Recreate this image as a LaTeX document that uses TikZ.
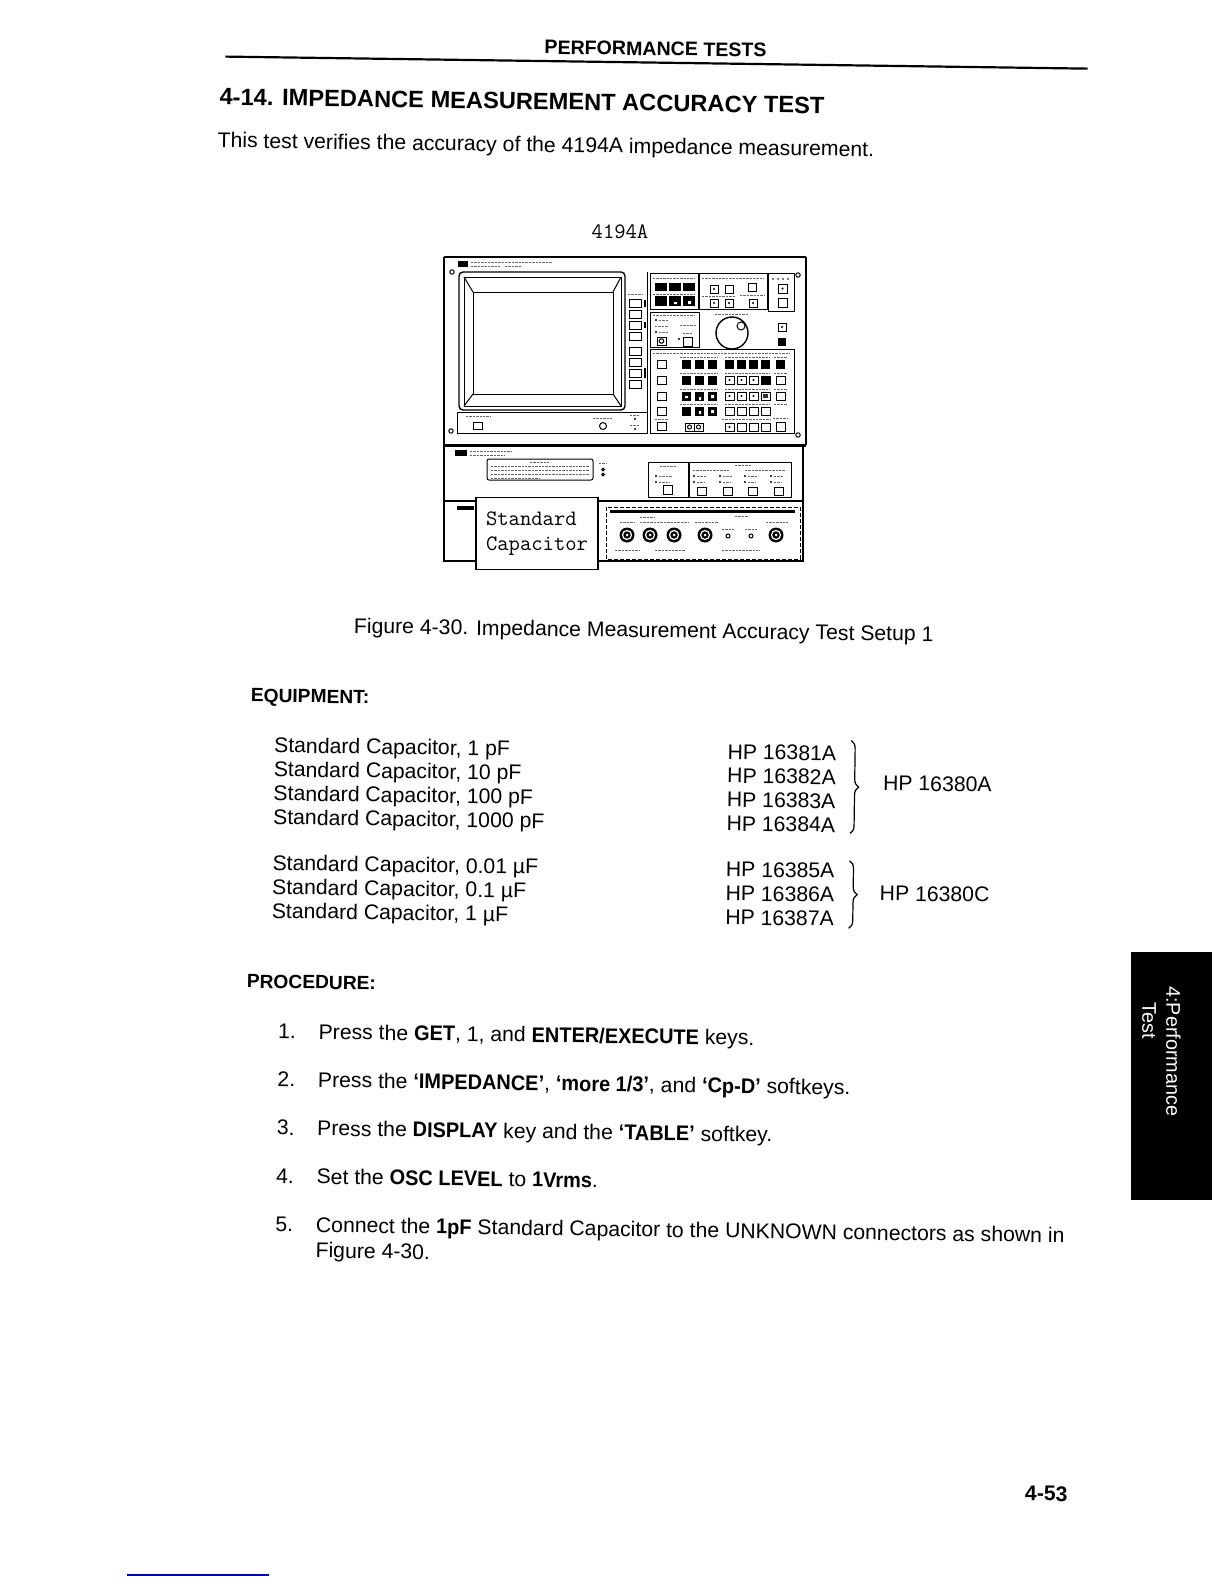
\documentclass[tikz,border=0pt]{standalone}
\usepackage{fontspec}
\setmainfont{Liberation Sans}
\newfontfamily\condbf[FakeStretch=0.94]{Liberation Sans Bold}
\newcommand\kb[1]{{\condbf #1}}
\usetikzlibrary{positioning, decorations.pathreplacing}

\begin{document}
\begin{tikzpicture}[x=0.5pt, y=-0.5pt,
    body/.style={font=\fontsize{10.5}{12.5}\selectfont, inner sep=0pt},
    hd/.style={font=\bfseries\fontsize{9.5}{11}\selectfont, inner sep=0pt},
    ttl/.style={font=\bfseries\fontsize{11.7}{14}\selectfont, inner sep=0pt},
    mono/.style={font=\ttfamily\fontsize{11}{12.5}\selectfont, inner sep=0pt, align=left},
    frame/.style={draw, line width=0.8pt},
    box/.style={draw, line width=0.5pt},
    scrib/.style={draw=black!60, line width=0.45pt, dash pattern=on 1.2pt off 0.5pt},
    brc/.style={decorate, decoration={brace, amplitude=4pt}, line width=0.6pt},
    tabtxt/.style={font=\fontsize{9.9}{12}\selectfont, text=white, align=left, inner sep=0pt}]
\useasboundingbox (0,0) rectangle (1224,1584);

% ---- 4194A front panel
\node[mono, anchor=base] (model) at (620,238) {4194A};
\draw[frame] (444,257) -- (444,445) (806,445) -- (806,257);
\draw[line width=1.1pt] (444,257) -- (806,257);
\fill (458,261) rectangle (468,267);
\draw[scrib] (471,262) -- (552,262) (471,266) -- (500,266) (505,266) -- (522,266);
\foreach \p in {(452,272),(451,431),(798,275),(798,435)}
    \draw[box] \p circle[radius=2.2];
% display
\draw[box, line width=0.7pt, rounded corners=2pt] (459,272) rectangle (625,410);
\draw[box] (464,277) rectangle (621,406);
\draw[box] (473,292) rectangle (613,394);
\draw[box] (464,277) -- (473,292) (621,277) -- (613,292) (464,406) -- (473,394) (621,406) -- (613,394);
\draw[box] (457,412) rectangle (647,433);
\draw[box] (473,422) rectangle (482,429);
\draw[scrib] (466,416) -- (490,416) (593,418) -- (613,418) (630,415) -- (640,415) (630,425) -- (640,425);
\draw[box] (603,426) circle[radius=3.5];
\fill (635,419) circle[radius=1.2] (635,429) circle[radius=1.2];
% softkeys
\draw[box] (647,272) -- (647,433);
\draw[scrib] (628,294) -- (643,294);
\foreach \y in {299,310,321,332,347,358,369,380}
    \draw[box] (629,\y) rectangle +(12,8);
\draw[line width=1pt] (644.5,300) -- (644.5,307) (644.5,322) -- (644.5,328) (644.5,368) -- (644.5,378);
% marker block
\draw[box] (650,273) rectangle (698,309);
\draw[scrib] (653,278) -- (695,278) (653,294) -- (695,294);
\foreach \x in {655,669,683} {
    \fill (\x,283) rectangle +(12,8);
    \fill (\x,296) rectangle +(12,10);
}
\fill[white] (674,302) rectangle +(3,2) (688,301) rectangle +(3,3);
% sweep block
\draw[box] (699,273) rectangle (767,309);
\draw[scrib] (702,278) -- (764,278) (702,296) -- (735,296) (740,295) -- (764,295);
\foreach \x/\y in {710/285,725/285,748/283,710/299,725/299,749/299}
    \draw[box] (\x,\y) rectangle +(8,8);
\fill (714,289) circle[radius=1.2] (714,303) circle[radius=1.2] (729,303) circle[radius=1.2] (753,303) circle[radius=1.2];
\draw[box] (768,273) rectangle (794,311);
\foreach \x in {773,778,783,788}
    \fill (\x,279) circle[radius=0.8];
\draw[box] (778,284) rectangle +(9,9) (778,298) rectangle +(9,9);
\fill (782.5,288.5) circle[radius=1.2];
% display control block
\draw[box] (650,312) rectangle (699,347);
\draw[scrib] (653,315) -- (695,315) (659,320) -- (668,320) (655,326) -- (668,326) (659,332) -- (668,332) (680,325) -- (696,325) (683,333) -- (692,333);
\fill (656,320) circle[radius=1.2] (656,332) circle[radius=1.2] (679,339) circle[radius=1.2];
\draw[box] (657,337) rectangle +(9,8) (683,337) rectangle +(9,9);
\draw[box] (661.5,341) circle[radius=2.3];
% knob
\draw[box, line width=0.7pt] (732,333) circle[radius=16];
\draw[box] (741,326) circle[radius=4];
\draw[scrib] (715,314) -- (748,314);
\draw[box] (778,323) rectangle +(8,8);
\fill (782,327) circle[radius=1.2];
\fill (778,338) rectangle +(8,8);
% entry keyboard
\draw[box] (650,349) rectangle (794,433);
\draw[scrib] (653,353) -- (790,353);
\foreach \y in {360,376,392,407} {
    \draw[box] (657,\y) rectangle +(9,8);
    \draw[scrib] (680,\y-3) -- (718,\y-3) (725,\y-3) -- (770,\y-3) (774,\y-3) -- (787,\y-3);
    \foreach \x in {682,695,708}
        \fill (\x,\y) rectangle +(9,9);
}
\draw[box] (657,422) rectangle +(9,8);
\fill[white] (685,396) rectangle +(3,2) (699,397) rectangle +(2,3) (711,395) rectangle +(3,3) (699,411) rectangle +(2,3) (711,410) rectangle +(3,3);
\foreach \x in {725,737,749,761} {
    \fill (\x,360) rectangle +(9,9);
    \draw[box] (\x,376) rectangle +(9,8) (\x,392) rectangle +(9,8) (\x,407) rectangle +(9,8) (\x,423) rectangle +(9,8);
}
\foreach \x in {729.5,741.5,753.5}
    \fill (\x,380) circle[radius=1.2] (\x,396) circle[radius=1.2];
\fill (761,376) rectangle +(9,8) (729.5,427) circle[radius=1.2];
\fill[black!80] (763,394) rectangle +(5,4);
\fill (776,360) rectangle +(9,9);
\draw[box] (776,376) rectangle +(9,8) (776,392) rectangle +(9,8) (776,422) rectangle +(9,9);
\draw[box] (685,423) rectangle +(9,8) (694,423) rectangle +(9,8);
\draw[box] (689.5,427) circle[radius=2] (698.5,427) circle[radius=2];
\draw[scrib] (655,419) -- (668,419) (722,419) -- (770,419) (773,418) -- (788,418);

% ---- lower unit
\draw[line width=1.6pt] (444,445.5) -- (806,445.5);
\draw[frame] (444,445) -- (444,561) -- (803,561) -- (803,445);
\fill (455,450) rectangle (467,456);
\draw[scrib] (470,451) -- (512,451) (470,455) -- (505,455);
\draw[box, rounded corners=1pt] (487,459) rectangle (593,480);
\draw[scrib] (530,462) -- (550,462) (491,466) -- (589,466) (491,470) -- (589,470) (491,474) -- (589,474) (491,478) -- (540,478) (599,463) -- (607,463);
\draw[box] (603,469.5) circle[radius=1.3] (603,474.5) circle[radius=1.3];
\draw[box] (648,462) rectangle (688,497);
\draw[scrib] (660,466) -- (677,466) (659,476) -- (672,476) (659,482) -- (670,482);
\fill (656,476) circle[radius=1.2] (656,482) circle[radius=1.2];
\draw[box] (663,485) rectangle +(9,9);
\draw[box] (689,462) rectangle (791,497);
\draw[scrib] (735,465) -- (752,465) (693,470) -- (730,470) (745,470) -- (785,470);
\foreach \x in {697,723,748,774} {
    \fill (\x-3,476) circle[radius=1.2] (\x-3,482) circle[radius=1.2];
    \draw[scrib] (\x,476) -- (\x+9,476) (\x,482) -- (\x+7,482);
    \draw[box] (\x,487) rectangle +(9,8);
}
\draw[line width=0.7pt] (444,501) -- (803,501);
\draw[line width=2pt] (457,507.5) -- (474,507.5);
% unknown connectors
\draw[line width=0.45pt, dash pattern=on 2pt off 1pt] (606,507) rectangle (800,559);
\draw[line width=1.5pt] (610,511) -- (795,511);
\foreach \x in {627,650,674,705,776} {
    \fill (\x,535) circle[radius=7.5];
    \draw[white, line width=0.6pt] (\x,535) circle[radius=4.5];
    \fill[white] (\x,535) circle[radius=1.5];
}
\draw[box] (728,536) circle[radius=2] (751,536) circle[radius=2];
\draw[scrib] (620,522) -- (634,522) (640,517) -- (655,517) (640,522) -- (688,522) (695,522) -- (718,522) (735,516) -- (748,516) (722,529) -- (734,529) (745,529) -- (757,529) (766,522) -- (788,522) (615,550) -- (640,550) (655,550) -- (685,550) (722,550) -- (760,550);
\node[mono, draw, fill=white, line width=0.9pt, minimum width=61pt, minimum height=36pt] (stdcap) at (537,533.5) {Standard\\Capacitor};

% ---- side tab
\fill (1131,952) rectangle (1212,1200);
\node[tabtxt, anchor=north west, rotate=-90] (tab) at (1181,986) {4:Performance\\\phantom{4:}Test};
\draw[blue!75!black, line width=1pt] (127,1575) -- (269,1575);

% ---- page text
\begin{scope}[scale=1.01, rotate around={-0.8:(612,792)}, transform shape]
\node[font=\bfseries\fontsize{9.7}{11}\selectfont, inner sep=0pt, anchor=base] (runhead) at (638.7,54.5) {PERFORMANCE TESTS};
\draw[line width=1.1pt] (212.8,61.5) -- (1066.8,61.5);
\node[ttl, anchor=base west] (title) at (207.4,109.5) {4-14. IMPEDANCE MEASUREMENT ACCURACY TEST};
\node[body, anchor=base west] (intro) at (206,151.6) {This test verifies the accuracy of the 4194A impedance measurement.};
\node[body, anchor=base west] (caption) at (347.7,630.7) {Figure 4-30. Impedance Measurement Accuracy Test Setup 1};

\node[hd, anchor=base west] (equip) at (246.6,700.1) {EQUIPMENT:};
\foreach \v/\pn [count=\i] in {1 pF/16381A, 10 pF/16382A, 100 pF/16383A, 1000 pF/16384A} {
    \node[body, anchor=base west] (capa\i) at (270.4,726.3+23.7*\i) {Standard Capacitor, \v};
    \node[body, anchor=base west] (hpa\i) at (719.4,726.3+23.7*\i) {HP \pn};
}
\foreach \v/\pn [count=\i] in {0.01 µF/16385A, 0.1 µF/16386A, 1 µF/16387A} {
    \node[body, anchor=base west] (capb\i) at (270.4,842.8+23.7*\i) {Standard Capacitor, \v};
    \node[body, anchor=base west] (hpb\i) at (719.4,842.8+23.7*\i) {HP \pn};
}
\draw[brc] (842,730) -- (842,822);
\node[body, anchor=base west] (seta) at (873.8,779) {HP 16380A};
\draw[brc] (842,849) -- (842,916);
\node[body, anchor=base west] (setc) at (872,888) {HP 16380C};

\node[hd, anchor=base west] (proc) at (246.6,983.2) {PROCEDURE:};
\foreach \t [count=\i] in {%
    {Press the \kb{GET}, 1, and \kb{ENTER/EXECUTE} keys.},
    {Press the \kb{‘IMPEDANCE’}, \kb{‘more 1/3’}, and \kb{‘Cp-D’} softkeys.},
    {Press the \kb{DISPLAY} key and the \kb{‘TABLE’} softkey.},
    {Set the \kb{OSC LEVEL} to \kb{1Vrms}.}} {
    \node[body, anchor=base west] (num\i) at (278.3,984.9+47.8*\i) {\i.};
    \node[body, anchor=base west] (step\i) at ([xshift=20pt]num\i.base west) {\t};
}
\node[body, anchor=base west] (num5) at (278.3,1223.9) {5.};
\node[body, font=\fontsize{10.5}{12.6}\selectfont, align=left, anchor=base west] (step5) at ([xshift=20pt, yshift=-12.6pt]num5.base west)
    {Connect the \kb{1pF} Standard Capacitor to the UNKNOWN connectors as shown in\\Figure 4-30.};
\node[font=\bfseries\fontsize{10.5}{12}\selectfont, inner sep=0pt, anchor=base] (pagenum) at (1045.5,1480.2) {4-53};
\end{scope}
\end{tikzpicture}
\end{document}
